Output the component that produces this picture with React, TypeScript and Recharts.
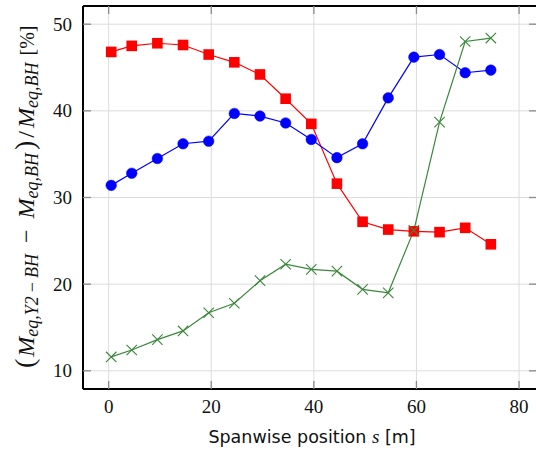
import React from 'react';
import { LineChart, Line, XAxis, YAxis, ReferenceLine } from 'recharts';

const positions = [0.5, 4.5, 9.5, 14.5, 19.5, 24.5, 29.5, 34.5, 39.5, 44.5, 49.5, 54.5, 59.5, 64.5, 69.5, 74.5];
const redSeries = [46.8, 47.5, 47.8, 47.6, 46.5, 45.6, 44.2, 41.4, 38.5, 31.6, 27.2, 26.3, 26.1, 26.0, 26.5, 24.6];
const blueSeries = [31.4, 32.8, 34.5, 36.2, 36.5, 39.7, 39.4, 38.6, 36.7, 34.6, 36.2, 41.5, 46.2, 46.5, 44.4, 44.7];
const greenSeries = [11.6, 12.4, 13.6, 14.6, 16.7, 17.8, 20.4, 22.3, 21.7, 21.5, 19.4, 19.0, 26.2, 38.7, 48.0, 48.4];
const xTicks = [0, 20, 40, 60, 80];
const yTicks = [10, 20, 30, 40, 50];

const data = positions.map((x, i) => ({ x, red: redSeries[i], blue: blueSeries[i], green: greenSeries[i] }));

const RED = '#ff0000';
const BLUE = '#0000ff';
const GREEN = '#3a873a';
const GRID = '#dcdcdc';
const SERIF = '"Liberation Serif", "Times New Roman", serif';
const TICK_COLOR = '#8a8a8a';
const TICK_LEN = 8;

// layout constants (plot box)
const CHART_W = 540;
const CHART_H = 451;
const M_TOP = 5;
const M_RIGHT = 2;
const X_AXIS_H = 62;
const Y_AXIS_W = 83;
const PLOT_TOP = M_TOP + 1;
const PLOT_BOTTOM = CHART_H - X_AXIS_H;
const PLOT_LEFT = Y_AXIS_W;
const PLOT_RIGHT = CHART_W - M_RIGHT - 1;

const SquareDot = (props: any) => {
  const { cx, cy, key } = props;
  if (cx == null || cy == null) return <g key={key} />;
  return <rect key={key} x={cx - 5.3} y={cy - 5.3} width={10.6} height={10.6} fill={RED} />;
};

const CrossDot = (props: any) => {
  const { cx, cy, key } = props;
  if (cx == null || cy == null) return <g key={key} />;
  const s = 5.2;
  return (
    <path
      key={key}
      d={`M${cx - s},${cy - s}L${cx + s},${cy + s}M${cx - s},${cy + s}L${cx + s},${cy - s}`}
      stroke={GREEN}
      strokeWidth={1.1}
      fill="none"
    />
  );
};

const BottomTick = (props: any) => {
  const { x, payload } = props;
  const cx = payload && payload.coordinate != null ? payload.coordinate : x;
  return (
    <g>
      <line x1={cx} x2={cx} y1={PLOT_BOTTOM} y2={PLOT_BOTTOM - TICK_LEN} stroke={TICK_COLOR} strokeWidth={1.3} />
      <text x={cx} y={PLOT_BOTTOM + 24} textAnchor="middle" fontFamily={SERIF} fontSize={19} fill="#111">
        {payload.value}
      </text>
    </g>
  );
};

const TopTick = (props: any) => {
  const { x, payload } = props;
  const cx = payload && payload.coordinate != null ? payload.coordinate : x;
  return <line x1={cx} x2={cx} y1={PLOT_TOP} y2={PLOT_TOP + TICK_LEN} stroke={TICK_COLOR} strokeWidth={1.3} />;
};

const LeftTick = (props: any) => {
  const { y, payload } = props;
  const cy = payload && payload.coordinate != null ? payload.coordinate : y;
  return (
    <g>
      <line x1={PLOT_LEFT} x2={PLOT_LEFT + TICK_LEN} y1={cy} y2={cy} stroke={TICK_COLOR} strokeWidth={1.3} />
      <text x={PLOT_LEFT - 11} y={cy + 6.5} textAnchor="end" fontFamily={SERIF} fontSize={19} fill="#111">
        {payload.value}
      </text>
    </g>
  );
};

const RightTick = (props: any) => {
  const { y, payload } = props;
  const cy = payload && payload.coordinate != null ? payload.coordinate : y;
  return <line x1={PLOT_RIGHT} x2={PLOT_RIGHT - TICK_LEN} y1={cy} y2={cy} stroke={TICK_COLOR} strokeWidth={1.3} />;
};

const XLabel = () => (
  <text x={312} y={443} textAnchor="middle" fontFamily='"DejaVu Sans", sans-serif' fontSize={17.5} fill="#111">
    Spanwise position <tspan fontFamily={SERIF} fontStyle="italic" fontSize={19}>s</tspan> [m]
  </text>
);

const YLabel = () => {
  const sub = 18;
  return (
    <text transform="rotate(-90)" x={-368} y={34} textAnchor="start" fontFamily={SERIF} fontSize={24} fill="#111">
      <tspan fontSize={28}>(</tspan>
      <tspan fontStyle="italic" dx={2}>M</tspan>
      <tspan fontStyle="italic" fontSize={sub} dy={4}>eq,Y2</tspan>
      <tspan fontSize={sub} dx={4}>−</tspan>
      <tspan fontStyle="italic" fontSize={sub} dx={4}>BH</tspan>
      <tspan dy={-4} dx={11}>−</tspan>
      <tspan fontStyle="italic" dx={11}>M</tspan>
      <tspan fontStyle="italic" fontSize={sub} dy={4}>eq,BH</tspan>
      <tspan fontSize={28} dy={-4} dx={3}>)</tspan>
      <tspan dx={3}>/</tspan>
      <tspan fontStyle="italic" dx={3}>M</tspan>
      <tspan fontStyle="italic" fontSize={sub} dy={4}>eq,BH</tspan>
      <tspan dy={-4} dx={7} fontSize={20}>[%]</tspan>
    </text>
  );
};

export default function App() {
  return (
    <div style={{ position: 'absolute', left: 0, top: 0, width: 536, height: 451, overflow: 'hidden', background: '#fff' }}>
      <LineChart width={CHART_W} height={CHART_H} data={data} margin={{ top: M_TOP, right: M_RIGHT, bottom: 0, left: 0 }}>
        <XAxis
          dataKey="x"
          type="number"
          domain={[-5, 83.5]}
          allowDataOverflow
          ticks={xTicks}
          height={X_AXIS_H}
          axisLine={{ stroke: '#000', strokeWidth: 2 }}
          tickLine={false}
          tick={BottomTick}
          label={<XLabel />}
        />
        <XAxis
          xAxisId="top"
          orientation="top"
          dataKey="x"
          type="number"
          domain={[-5, 83.5]}
          allowDataOverflow
          ticks={xTicks}
          height={1}
          axisLine={{ stroke: '#000', strokeWidth: 2 }}
          tickLine={false}
          tick={TopTick}
        />
        <YAxis
          type="number"
          domain={[7.9, 52.1]}
          allowDataOverflow
          ticks={yTicks}
          width={Y_AXIS_W}
          axisLine={{ stroke: '#000', strokeWidth: 2 }}
          tickLine={false}
          tick={LeftTick}
          label={<YLabel />}
        />
        <YAxis
          yAxisId="right"
          orientation="right"
          type="number"
          domain={[7.9, 52.1]}
          allowDataOverflow
          ticks={yTicks}
          width={1}
          axisLine={{ stroke: '#000', strokeWidth: 2 }}
          tickLine={false}
          tick={RightTick}
        />
        {xTicks.map((v) => (
          <ReferenceLine key={`gx${v}`} x={v} stroke={GRID} strokeWidth={1} {...({ zIndex: -10 } as any)} />
        ))}
        {yTicks.map((v) => (
          <ReferenceLine key={`gy${v}`} y={v} stroke={GRID} strokeWidth={1} {...({ zIndex: -10 } as any)} />
        ))}
        <Line dataKey="red" stroke={RED} strokeWidth={1.2} dot={SquareDot} activeDot={false} isAnimationActive={false} />
        <Line dataKey="blue" stroke={BLUE} strokeWidth={1.2} dot={{ r: 5.3, fill: BLUE, stroke: BLUE, strokeWidth: 0.5 }} activeDot={false} isAnimationActive={false} />
        <Line dataKey="green" stroke={GREEN} strokeWidth={1.2} dot={CrossDot} activeDot={false} isAnimationActive={false} />
      </LineChart>
    </div>
  );
}
